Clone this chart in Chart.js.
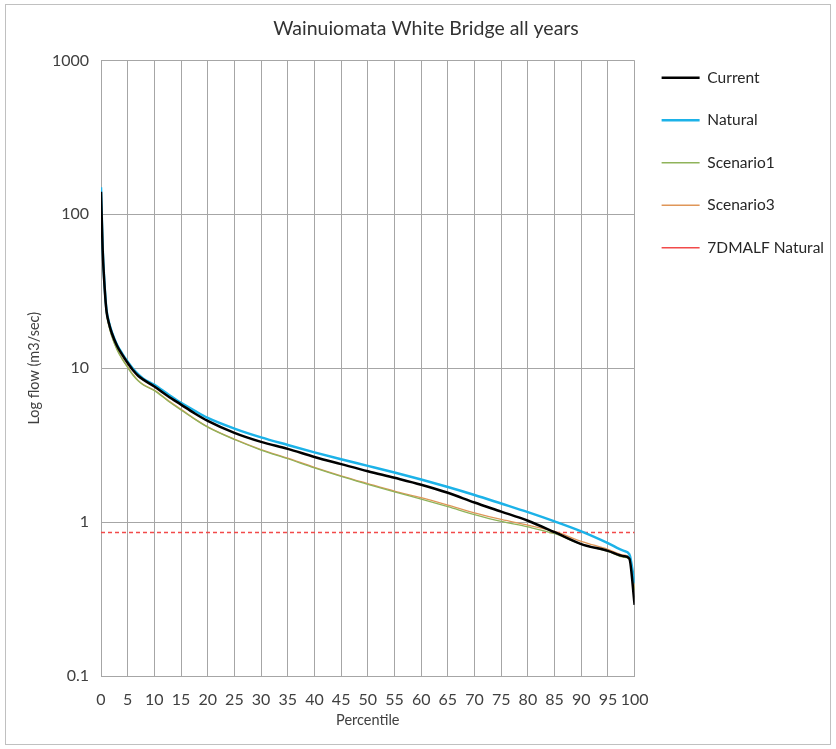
<!DOCTYPE html>
<html>
	<head>
		<title>Wainuiomata White Bridge all years</title>
		<style>
body {
	margin: 0;
	background-color: #ffffff;
}
.chart-box {
	position: absolute;
	left: 5px;
	top: 4px;
	width: 824px;
	height: 739px;
	border: 1px solid #c0c0c0;
}
		</style>
	</head>
	<body>
		<div class="chart-box">
			<canvas id="flowChart"></canvas>
		</div>

		<script src="https://cdn.jsdelivr.net/npm/chart.js"></script>
		<script>
			// flow duration curve values (m3/sec)
			const percentiles = [0, 0.3, 0.6, 1, 1.5, 2, 3, 4, 5, 6, 7, 8, 10, 12.5, 15, 17.5, 20, 25, 30, 35, 40, 45, 50, 55, 60, 65, 70, 75, 80, 85, 90, 95, 98, 99, 100];
			const current   = [140, 60, 37, 24, 19.5, 17, 14, 12.2, 10.8, 9.7, 8.9, 8.4, 7.6, 6.6, 5.8, 5.1, 4.55, 3.8, 3.32, 2.99, 2.65, 2.38, 2.14, 1.94, 1.75, 1.55, 1.34, 1.17, 1.02, 0.86, 0.72, 0.65, 0.6, 0.58, 0.29];
			const natural   = [150, 62, 38, 24.5, 19.8, 17.3, 14.2, 12.4, 11, 9.9, 9.1, 8.5, 7.8, 6.8, 5.95, 5.3, 4.75, 4.05, 3.55, 3.17, 2.84, 2.56, 2.32, 2.1, 1.89, 1.69, 1.5, 1.32, 1.16, 1.01, 0.87, 0.73, 0.65, 0.62, 0.4];
			const scenario1 = [145, 58, 36, 23, 18.7, 16.2, 13.2, 11.4, 10.1, 9.0, 8.25, 7.75, 7.15, 6.15, 5.35, 4.68, 4.14, 3.44, 2.94, 2.58, 2.25, 1.98, 1.76, 1.57, 1.41, 1.26, 1.12, 1.01, 0.93, 0.84, 0.72, 0.645, 0.59, 0.575, 0.36];
			const scenario3 = [140, 58, 36, 23, 18.8, 16.3, 13.3, 11.5, 10.2, 9.1, 8.3, 7.8, 7.2, 6.2, 5.4, 4.7, 4.16, 3.46, 2.96, 2.6, 2.27, 2.0, 1.78, 1.59, 1.44, 1.29, 1.15, 1.04, 0.955, 0.87, 0.75, 0.665, 0.61, 0.59, 0.37];
			const malfPercentiles = [0, 100];
			const malfNatural = [0.856, 0.856];
			const yTickValues = [0.1, 1, 10, 100, 1000];

			const gridColor = '#a6a6a6';
			const textColor = '#404040';

			const toPoints = (xs, ys) => xs.map((x, i) => ({ x: x, y: ys[i] }));

			Chart.defaults.font.family = 'Lato, "Open Sans", sans-serif';
			Chart.defaults.color = textColor;

			const ctx = document.getElementById('flowChart').getContext('2d');
			const flowChart = new Chart(ctx, {
				type: 'line',
				data: {
					datasets: [{
						label: 'Current',
						data: toPoints(percentiles, current),
						borderColor: '#000000',
						borderWidth: 2.5
					},
					{
						label: 'Natural',
						data: toPoints(percentiles, natural),
						borderColor: '#1cb2e8',
						borderWidth: 2.5
					},
					{
						label: 'Scenario1',
						data: toPoints(percentiles, scenario1),
						borderColor: '#8fb35a',
						borderWidth: 1.3
					},
					{
						label: 'Scenario3',
						data: toPoints(percentiles, scenario3),
						borderColor: '#df9658',
						borderWidth: 1.3
					},
					{
						label: '7DMALF Natural',
						data: toPoints(malfPercentiles, malfNatural),
						borderColor: '#f24a4a',
						borderWidth: 1.5,
						borderDash: [4, 3]
					}]
				},
				options: {
					responsive: true,
					maintainAspectRatio: false,
					animation: false,
					layout: {
						padding: { left: 12, right: -4, top: 0, bottom: 5 }
					},
					elements: {
						point: { radius: 0 },
						line: { fill: false, cubicInterpolationMode: 'monotone' }
					},
					plugins: {
						title: {
							display: true,
							text: 'Wainuiomata White Bridge all years',
							color: '#333333',
							font: { size: 19.5, weight: 'normal' },
							padding: { top: 12, bottom: 20 }
						},
						legend: {
							position: 'right',
							align: 'start',
							// empty title only pushes the entries down
							title: {
								display: true,
								text: '',
								font: { size: 10, lineHeight: 1 },
								padding: { top: 28, bottom: 0 }
							},
							labels: {
								usePointStyle: true,
								pointStyle: 'line',
								pointStyleWidth: 38,
								padding: 27,
								color: '#262626',
								font: { size: 15.5 }
							}
						},
						tooltip: { enabled: false }
					},
					scales: {
						x: {
							type: 'linear',
							min: 0,
							max: 100,
							grid: { color: gridColor, drawTicks: false },
							border: { color: gridColor },
							ticks: {
								stepSize: 5,
								autoSkip: false,
								maxRotation: 0,
								padding: 14,
								font: { size: 16 }
							},
							title: {
								display: true,
								text: 'Percentile',
								font: { size: 14.5 },
								padding: { top: 0, bottom: 10 }
							},
							afterFit: (scale) => { scale.height = 63; }
						},
						y: {
							type: 'logarithmic',
							min: 0.1,
							max: 1000,
							grid: { color: gridColor, drawTicks: false },
							border: { color: gridColor },
							afterBuildTicks: (scale) => {
								scale.ticks = yTickValues.map(v => ({ value: v, major: true }));
							},
							ticks: {
								padding: 12,
								font: { size: 16 },
								callback: (value) => String(value)
							},
							title: {
								display: true,
								text: 'Log flow (m3/sec)',
								font: { size: 14.5 },
								padding: { top: 8, bottom: 0 }
							},
							afterFit: (scale) => { scale.width = 83; }
						}
					}
				}
			});
		</script>
	</body>
</html>
